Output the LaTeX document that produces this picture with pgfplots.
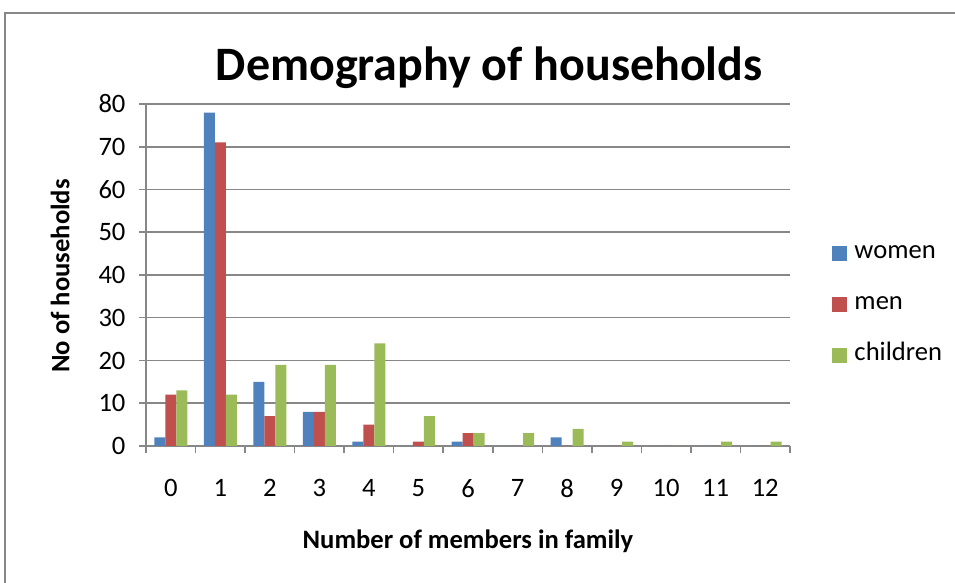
\documentclass[border=0pt]{standalone}
\usepackage{pgfplots}
\pgfplotsset{compat=1.18}
\usepackage{fontspec}
\setmainfont{Carlito}
\definecolor{cwomen}{HTML}{4F81BD}
\definecolor{cmen}{HTML}{C0504D}
\definecolor{cchild}{HTML}{9BBB59}
\definecolor{gridgray}{HTML}{878787}
\begin{document}
\begin{tikzpicture}[x=1pt,y=1pt]
\useasboundingbox (0,0) rectangle (955,583);
\draw[gridgray, line width=1.2pt] (5,-20) -- (5,570) -- (980,570);
\begin{axis}[
  at={(146pt,137pt)}, anchor=south west,
  scale only axis, width=644pt, height=342pt,
  font=\fontsize{26.6}{32}\selectfont,
  /pgf/number format/assume math mode=true,
  ybar=0pt, bar width=11pt,
  xmin=-0.5, xmax=12.5, ymin=0, ymax=80,
  xtick={0,...,12},
  minor xtick={-0.5,0.5,...,12.5},
  ytick={0,10,...,80},
  axis x line*=bottom, axis y line*=left,
  axis line style={-, gridgray, line width=1.5pt},
  tick align=outside,
  major tick length=7pt,
  minor tick length=7pt,
  x tick style={draw=none},
  minor x tick style={draw=gridgray, line width=1.5pt},
  y tick style={gridgray, line width=1.5pt},
  ymajorgrids,
  major grid style={gridgray, line width=1.5pt},
  xticklabel style={yshift=-23pt},
  yticklabel style={xshift=-10pt},
  title={Demography of households},
  title style={at={(axis description cs:0.533,1.052)}, anchor=base, font=\fontsize{48}{58}\selectfont\bfseries},
  xlabel={Number of members in family},
  xlabel style={at={(axis description cs:0.5,-0.278)}, anchor=center, font=\fontsize{26.6}{32}\selectfont\bfseries},
  ylabel={No of households},
  ylabel style={at={(axis description cs:-0.1335,0.497)}, anchor=center, font=\fontsize{26.6}{32}\selectfont\bfseries},
  legend style={at={(axis description cs:1.061,0.415)}, anchor=west, draw=none, fill=none,
    font=\fontsize{26.6}{32}\selectfont,
    row sep=26pt,
    nodes={inner sep=2pt, text height=16pt, text depth=5pt}},
  legend cell align=left,
  legend image code/.code={\fill[#1] (0pt,-7.5pt) rectangle (15pt,7.5pt); \path (20pt,0pt);},
]
\addplot[fill=cwomen, draw=none] coordinates {(0,2) (1,78) (2,15) (3,8) (4,1) (5,0) (6,1) (7,0) (8,2) (9,0) (10,0) (11,0) (12,0)};
\addplot[fill=cmen, draw=none] coordinates {(0,12) (1,71) (2,7) (3,8) (4,5) (5,1) (6,3) (7,0) (8,0) (9,0) (10,0) (11,0) (12,0)};
\addplot[fill=cchild, draw=none] coordinates {(0,13) (1,12) (2,19) (3,19) (4,24) (5,7) (6,3) (7,3) (8,4) (9,1) (10,0) (11,1) (12,1)};
\legend{women, men, children}
\end{axis}
\end{tikzpicture}
\end{document}
